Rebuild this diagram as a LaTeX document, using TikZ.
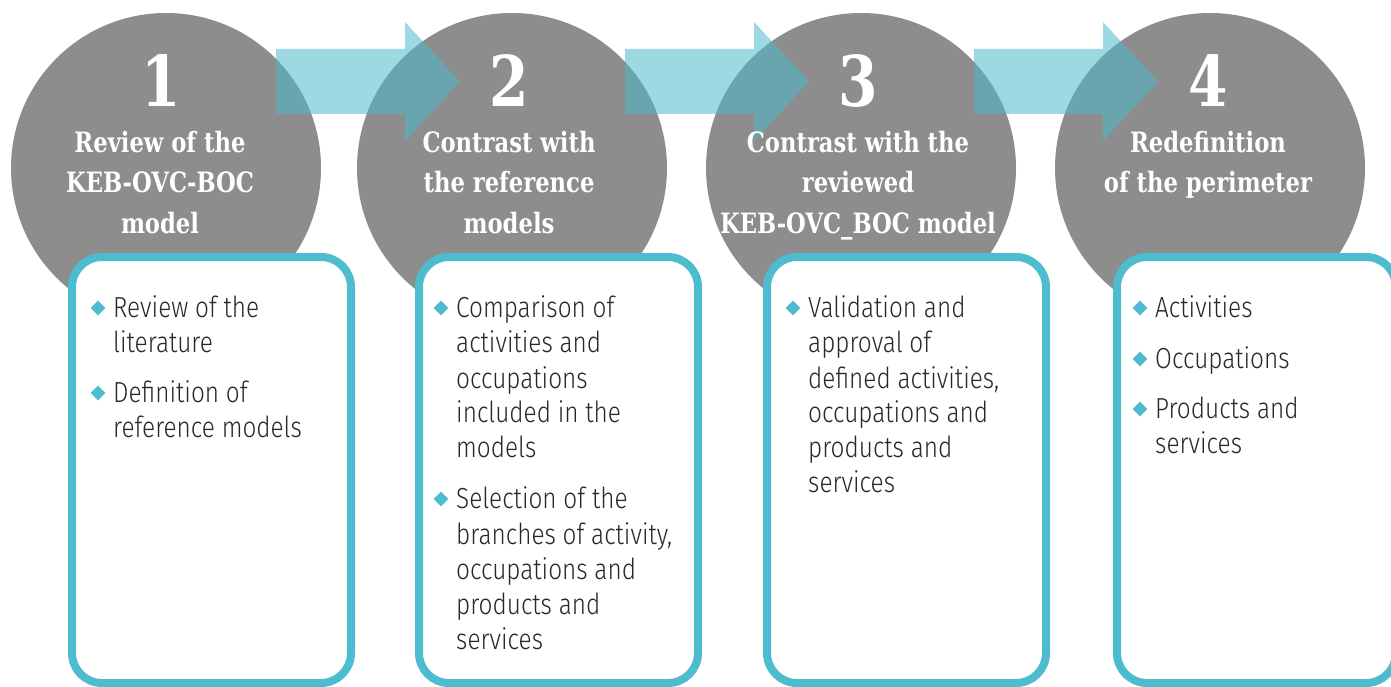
\documentclass[tikz,border=0pt]{standalone}
\usepackage{fontspec}
\usetikzlibrary{shapes.geometric}
\newfontfamily\headfont{DejaVu Serif Condensed}[FakeStretch=0.9]
\newfontfamily\bodyfont{Fira Sans Light}[FakeStretch=0.84]
\definecolor{discgray}{RGB}{141,141,141}
\definecolor{cardteal}{RGB}{77,188,207}
\definecolor{arrowteal}{RGB}{77,185,204}
\definecolor{bodygray}{RGB}{40,40,40}
\begin{document}
\begin{tikzpicture}[x=1pt,y=-1pt,
  disc/.style={circle, fill=discgray, minimum size=310pt, inner sep=0pt},
  card/.style={draw=cardteal, line width=8pt, fill=white, rounded corners=30pt,
    minimum width=279pt, minimum height=426pt, inner sep=0pt},
  flow/.style={fill=arrowteal, fill opacity=0.55},
  numtext/.style={text=white, font=\headfont\bfseries\fontsize{70}{70}\selectfont, anchor=base, inner sep=0pt},
  headtext/.style={text=white, font=\headfont\bfseries\fontsize{28}{28}\selectfont, anchor=base, inner sep=0pt},
  bodytext/.style={text=bodygray, font=\bodyfont\fontsize{29}{35}\selectfont, anchor=base west, inner sep=0pt},
  bulletmark/.style={diamond, fill=cardteal, minimum size=15pt, inner sep=0pt}
]
\useasboundingbox (0,0) rectangle (1391,687);

% step discs
\node[disc] (c1) at (166,168) {};
\node[disc] (c2) at (512,168) {};
\node[disc] (c3) at (861,168) {};
\node[disc] (c4) at (1210,168) {};

% translucent arrows between the discs
\foreach \o/\k in {0/1,349/2,698/3}
  \fill[flow] (276+\o,49) -- (405+\o,49) -- (405+\o,22) -- (460+\o,81.5)
    -- (405+\o,141) -- (405+\o,114) -- (276+\o,114) -- cycle;

% step numbers and titles
\node[numtext] (n1) at (161,107) {1};
\node[numtext] (n2) at (509,107) {2};
\node[numtext] (n3) at (858,107) {3};
\node[numtext] (n4) at (1208,107) {4};

\node[headtext] (h1a) at (160,153) {Review of the};
\node[headtext] (h1b) at (160,193) {KEB-OVC-BOC};
\node[headtext] (h1c) at (160,233) {model};

\node[headtext] (h2a) at (509,153) {Contrast with};
\node[headtext] (h2b) at (509,193) {the reference};
\node[headtext] (h2c) at (509,233) {models};

\node[headtext] (h3a) at (858,153) {Contrast with the};
\node[headtext] (h3b) at (858,193) {reviewed};
\node[headtext] (h3c) at (858,233) {KEB-OVC\_BOC model};

\node[headtext] (h4a) at (1208,153) {Redefinition};
\node[headtext] (h4b) at (1208,193) {of the perimeter};

% detail cards
\node[card] (k1) at (211.5,470) {};
\node[card] (k2) at (558.5,470) {};
\node[card] (k3) at (906.5,470) {};
\node[card] (k4) at (1256.5,470) {};

% card 1
\node[bulletmark] (d1a) at (98,308) {};
\node[bulletmark] (d1b) at (98,393) {};
\foreach \t/\yy [count=\i] in {Review of the/317, literature/352, Definition of/402, reference models/437}
  \node[bodytext] (t1-\i) at (113,\yy) {\t};

% card 2
\node[bulletmark] (d2a) at (441,308) {};
\node[bulletmark] (d2b) at (441,499) {};
\foreach \t/\yy [count=\i] in {Comparison of/317, activities and/352, occupations/388,
    included in the/422, models/457, Selection of the/508, {branches of activity,}/544,
    occupations and/579, products and/614, services/649}
  \node[bodytext] (t2-\i) at (456,\yy) {\t};

% card 3
\node[bulletmark] (d3a) at (793,308) {};
\foreach \t/\yy [count=\i] in {Validation and/317, approval of/352, {defined activities,}/388,
    occupations and/422, products and/457, services/492}
  \node[bodytext] (t3-\i) at (808,\yy) {\t};

% card 4
\node[bulletmark] (d4a) at (1140,308) {};
\node[bulletmark] (d4b) at (1140,359) {};
\node[bulletmark] (d4c) at (1140,409) {};
\foreach \t/\yy [count=\i] in {Activities/317, Occupations/368, Products and/418, services/453}
  \node[bodytext] (t4-\i) at (1155,\yy) {\t};
\end{tikzpicture}
\end{document}
